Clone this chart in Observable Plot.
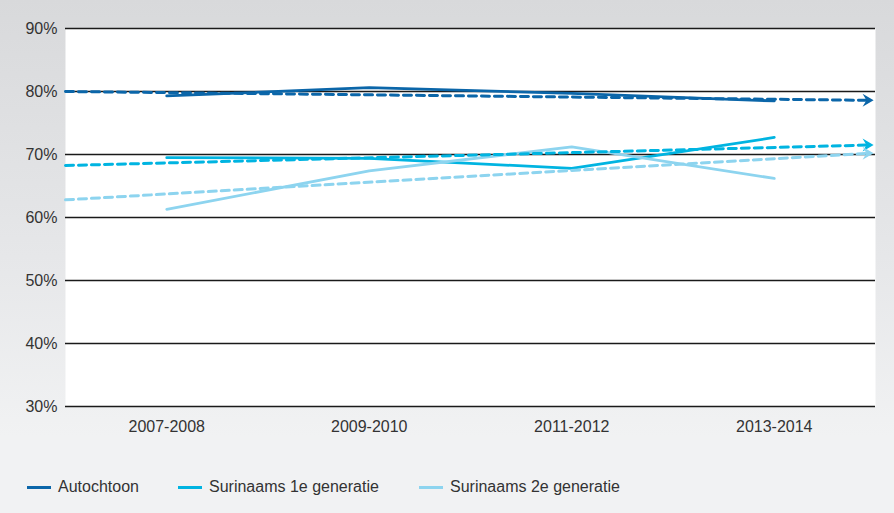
<!DOCTYPE html>
<html>
<head>
<meta charset="utf-8">
<script src="https://cdn.jsdelivr.net/npm/d3@7"></script>
<script src="https://cdn.jsdelivr.net/npm/@observablehq/plot@0.6"></script>
<style>
  html, body { margin: 0; padding: 0; background: #ffffff; }
  #panel {
    position: relative;
    width: 894px;
    height: 513px;
    background: linear-gradient(to bottom, #d8d9db 0%, #e6e7e9 50%, #f1f2f3 85%, #f1f2f3 100%);
    font-family: "Liberation Sans", Arial, sans-serif;
    color: #333333;
    overflow: hidden;
  }
  #chart svg { display: block; }
  #legend { position: absolute; left: 0; top: 450px; width: 894px; height: 63px; }
  .item { position: absolute; top: 26px; display: flex; align-items: center; font-size: 16px; line-height: 22px; white-space: nowrap; }
  .swatch { width: 24px; height: 3px; margin-right: 7px; }
</style>
</head>
<body>
<div id="panel">
  <div id="chart"></div>
  <div id="legend"></div>
</div>
<script>
// Periods on the x axis
const periods = ["2007-2008", "2009-2010", "2011-2012", "2013-2014"];
// Groups shown
const seriesNames = ["Autochtoon", "Surinaams 1e generatie", "Surinaams 2e generatie"];
const colors = ["#0b66a9", "#00b4e1", "#8dd4ef"];
// Shares per period (%)
const autochtoon = [79.3, 80.6, 79.7, 78.5];
const surinaams1 = [69.5, 69.4, 67.8, 72.7];
const surinaams2 = [61.3, 67.4, 71.2, 66.2];
// Trend lines: value at the left edge and at the arrow head (%)
const trendStart = [80.0, 68.25, 62.8];
const trendEnd = [78.6, 71.5, 70.2];
// Y axis ticks
const yTicks = [30, 40, 50, 60, 70, 80, 90];

const seriesValues = [autochtoon, surinaams1, surinaams2];

const rows = seriesNames.flatMap((s, k) =>
  periods.map((p, i) => ({series: s, i, value: seriesValues[k][i]}))
);

const trendX0 = -0.5, trendX1 = 3.465;
const trend = seriesNames.flatMap((s, k) => [
  {series: s, i: trendX0, value: trendStart[k]},
  {series: s, i: trendX1, value: trendEnd[k]}
]);
const trendHeads = seriesNames.map((s, k) => ({series: s, i: trendX1, value: trendEnd[k]}));

// Notched arrow head pointing right
const arrowHead = {
  draw(context, size) {
    const r = Math.sqrt(size / Math.PI);
    context.moveTo(r * 0.8, 0);
    context.lineTo(-r * 0.9, -r);
    context.lineTo(-r * 0.3, 0);
    context.lineTo(-r * 0.9, r);
    context.closePath();
  }
};

const chart = Plot.plot({
  width: 894,
  height: 450,
  marginLeft: 65,
  marginRight: 19,
  marginTop: 28,
  marginBottom: 44,
  style: {
    fontFamily: '"Liberation Sans", Arial, sans-serif',
    fontSize: "16px",
    color: "#333333",
    background: "transparent",
    overflow: "visible"
  },
  x: {
    domain: [-0.5, 3.5],
    ticks: [0, 1, 2, 3],
    tickFormat: i => periods[i],
    tickSize: 0,
    tickPadding: 14,
    label: null
  },
  y: {
    domain: [30, 90],
    ticks: yTicks,
    tickFormat: d => d + "%",
    tickSize: 0,
    tickPadding: 8,
    label: null
  },
  color: {domain: seriesNames, range: colors},
  marks: [
    Plot.frame({fill: "white", stroke: "none"}),
    Plot.gridY(yTicks, {stroke: "#1a1a1a", strokeOpacity: 1, strokeWidth: 1.4}),
    Plot.line(rows, {x: "i", y: "value", z: "series", stroke: "series", strokeWidth: 2.8}),
    Plot.line(trend, {x: "i", y: "value", z: "series", stroke: "series", strokeWidth: 3, strokeDasharray: "8,5"}),
    Plot.dot(trendHeads, {x: "i", y: "value", fill: "series", stroke: "none", symbol: arrowHead, r: 6.5})
  ]
});

document.getElementById("chart").appendChild(chart);

// Legend below the chart
const legendLefts = [27, 178, 419];
const legend = document.getElementById("legend");
seriesNames.forEach((s, k) => {
  const item = document.createElement("div");
  item.className = "item";
  item.style.left = legendLefts[k] + "px";
  const sw = document.createElement("span");
  sw.className = "swatch";
  sw.style.background = colors[k];
  const label = document.createElement("span");
  label.textContent = s;
  item.appendChild(sw);
  item.appendChild(label);
  legend.appendChild(item);
});
</script>
</body>
</html>
